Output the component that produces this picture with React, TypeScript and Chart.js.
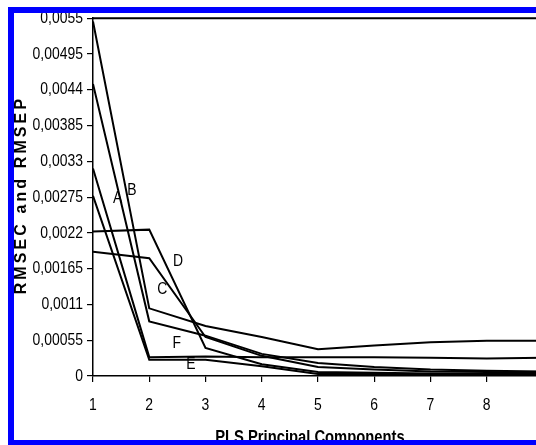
import React, { useEffect, useRef } from 'react';
import { Chart, registerables } from 'chart.js';

Chart.register(...registerables);

// PLS principal components (x axis)
const components = [1, 2, 3, 4, 5, 6, 7, 8, 9];

// RMSEC / RMSEP curves
const seriesA = [0.00449, 0.00084, 0.00062, 0.00034, 0.0002, 0.00014, 0.0001, 0.00008, 0.00007];
const seriesB = [0.00545, 0.00104, 0.00077, 0.0006, 0.00041, 0.00047, 0.00052, 0.00054, 0.00054];
const seriesC = [0.00191, 0.00181, 0.0006, 0.00031, 0.00014, 0.0001, 0.00007, 0.00006, 0.00005];
const seriesD = [0.00222, 0.00225, 0.00043, 0.00018, 0.00006, 0.00005, 0.00004, 0.00003, 0.00003];
const seriesE = [0.00277, 0.00025, 0.00025, 0.00015, 0.00003, 0.00003, 0.00003, 0.00002, 0.00002];
const seriesF = [0.00319, 0.00029, 0.0003, 0.00029, 0.00029, 0.00029, 0.00028, 0.00027, 0.00028];

const seriesNames = ['A', 'B', 'C', 'D', 'E', 'F'];
const seriesValues = [seriesA, seriesB, seriesC, seriesD, seriesE, seriesF];

// in-plot letter labels (data coordinates)
const labelX = [1.44, 1.69, 2.23, 2.51, 2.74, 2.49];
const labelY = [0.00273, 0.00286, 0.00133, 0.00176, 0.00018, 0.00051];

// axis ticks
const xTickLabels = ['1', '2', '3', '4', '5', '6', '7', '8', '9'];
const yTicks = [0, 0.00055, 0.0011, 0.00165, 0.0022, 0.00275, 0.0033, 0.00385, 0.0044, 0.00495, 0.0055];
const yTickLabels = ['0', '0,00055', '0,0011', '0,00165', '0,0022', '0,00275', '0,0033', '0,00385', '0,0044', '0,00495', '0,0055'];

const xTitle = 'PLS Principal Components';
const yTitle = 'RMSEC and RMSEP';

const FONT = '"Liberation Sans", Arial, sans-serif';
const SQUEEZE = 0.82; // narrow (Arial Narrow-like) lettering

function narrowText(ctx: any, text: string, x: number, y: number, align: string) {
  ctx.save();
  ctx.translate(x, y);
  ctx.scale(SQUEEZE, 1);
  ctx.textAlign = align;
  ctx.textBaseline = 'middle';
  ctx.fillText(text, 0, 0);
  ctx.restore();
}

const decorations = {
  id: 'decorations',
  afterDraw(chart: any) {
    const { ctx, chartArea, scales } = chart;
    ctx.save();
    // top frame line
    ctx.strokeStyle = '#000';
    ctx.lineWidth = 2;
    ctx.beginPath();
    ctx.moveTo(chartArea.left, chartArea.top);
    ctx.lineTo(chartArea.right + 40, chartArea.top);
    ctx.stroke();

    ctx.fillStyle = '#000';
    ctx.font = `17px ${FONT}`;
    // y tick labels
    scales.y.ticks.forEach((t: any, i: number) => {
      narrowText(ctx, yTickLabels[i], chartArea.left - 10, scales.y.getPixelForValue(t.value), 'right');
    });
    // x tick labels
    scales.x.ticks.forEach((t: any, i: number) => {
      narrowText(ctx, xTickLabels[i], scales.x.getPixelForValue(t.value), chartArea.bottom + 29, 'center');
    });
    // letter labels
    seriesNames.forEach((n, i) => {
      narrowText(ctx, n, scales.x.getPixelForValue(labelX[i]), scales.y.getPixelForValue(labelY[i]), 'center');
    });
    // x title
    ctx.font = `bold 18px ${FONT}`;
    narrowText(ctx, xTitle, chartArea.left + (chartArea.right - chartArea.left) * 0.482, chartArea.bottom + 62, 'center');

    // y title
    ctx.translate(8, (chartArea.top + chartArea.bottom) / 2);
    ctx.rotate(-Math.PI / 2);
    ctx.font = `bold 16px ${FONT}`;
    ctx.letterSpacing = '3.1px';
    ctx.textAlign = 'center';
    ctx.textBaseline = 'middle';
    ctx.fillText(yTitle, 2, 0);
    ctx.restore();
  },
};

export default function App() {
  const ref = useRef<HTMLCanvasElement>(null);
  useEffect(() => {
    document.body.style.overflow = 'hidden';
    const chart = new Chart(ref.current as HTMLCanvasElement, {
      type: 'line',
      data: {
        datasets: seriesValues.map((vals, i) => ({
          label: seriesNames[i],
          data: components.map((c, j) => ({ x: c, y: vals[j] })),
          borderColor: '#000',
          borderWidth: 2,
          pointRadius: 0,
          fill: false,
          tension: 0,
        })),
      },
      options: {
        animation: false,
        responsive: false,
        maintainAspectRatio: false,
        layout: { padding: { top: 12.5, right: 31, bottom: 0, left: 0 } },
        plugins: { legend: { display: false }, tooltip: { enabled: false }, title: { display: false } },
        scales: {
          x: {
            type: 'linear',
            min: 1,
            max: 9,
            afterFit: (s: any) => { s.height = 88; },
            ticks: { stepSize: 1, color: 'rgba(0,0,0,0)', font: { family: FONT, size: 17 }, padding: 8 },
            grid: { drawOnChartArea: false, drawTicks: true, tickLength: 6, color: '#000', lineWidth: 1.2 },
            border: { display: true, color: '#000', width: 1.5 },
          },
          y: {
            type: 'linear',
            min: 0,
            max: 0.0055,
            afterFit: (s: any) => { s.width = 79; },
            afterBuildTicks: (s: any) => { s.ticks = yTicks.map((v) => ({ value: v })); },
            ticks: {
              color: 'rgba(0,0,0,0)',
              font: { family: FONT, size: 17 },
              padding: 4,
              callback: (_v: any, i: number) => yTickLabels[i],
            },
            grid: { drawOnChartArea: false, drawTicks: true, tickLength: 6, color: '#000', lineWidth: 1.2 },
            border: { display: true, color: '#000', width: 1.5 },
          },
        },
      },
      plugins: [decorations],
    });
    return () => chart.destroy();
  }, []);

  return (
    <div
      style={{
        position: 'absolute',
        left: 8,
        top: 7,
        width: 528,
        height: 439,
        boxSizing: 'border-box',
        borderTop: '6px solid #0000ff',
        borderLeft: '6px solid #0000ff',
        borderBottom: '6px solid #0000ff',
        background: '#fff',
        overflow: 'hidden',
      }}
    >
      <canvas ref={ref} width={560} height={460} style={{ position: 'absolute', left: 0, top: -9, width: 560, height: 460 }} />
    </div>
  );
}
